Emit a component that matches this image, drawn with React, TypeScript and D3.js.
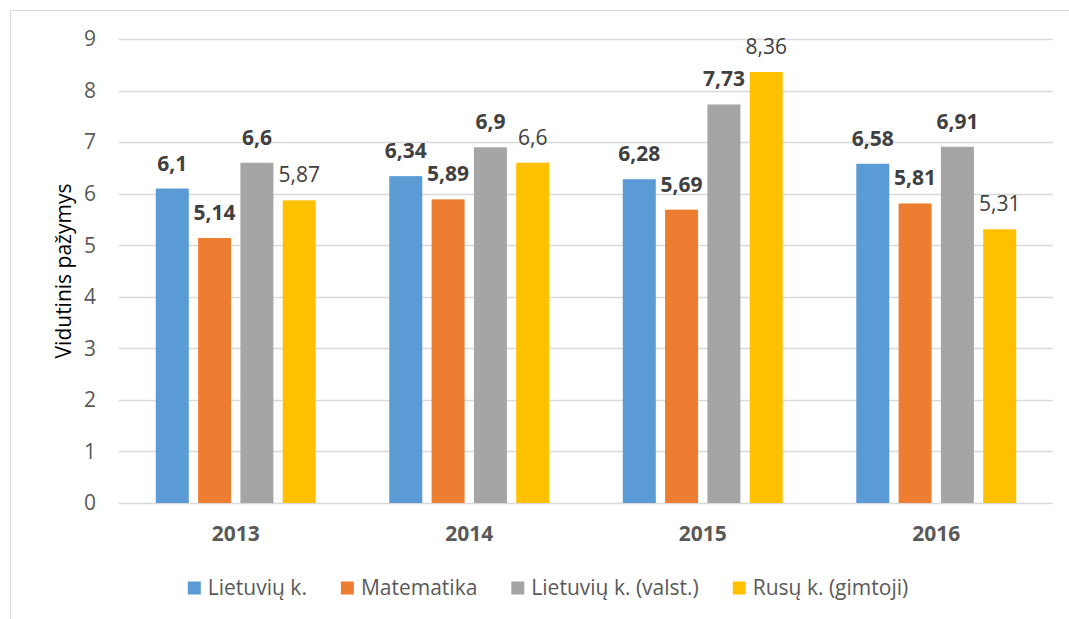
import * as d3 from "d3";
import { useEffect, useRef } from "react";

const years = ["2013", "2014", "2015", "2016"];
const seriesNames = ["Lietuvių k.", "Matematika", "Lietuvių k. (valst.)", "Rusų k. (gimtoji)"];
const lietuviu = [6.1, 6.34, 6.28, 6.58];
const matematika = [5.14, 5.89, 5.69, 5.81];
const lietuviuValst = [6.6, 6.9, 7.73, 6.91];
const rusu = [5.87, 6.6, 8.36, 5.31];
const yTicks = [0, 1, 2, 3, 4, 5, 6, 7, 8, 9];

const seriesValues = [lietuviu, matematika, lietuviuValst, rusu];
const colors = ["#5B9BD5", "#ED7D31", "#A5A5A5", "#FFC000"];
const boldLabels = [true, true, true, false];

const W = 1069;
const H = 619;
const FONT = "'Open Sans', sans-serif";

export default function App() {
  const svgRef = useRef<SVGSVGElement>(null);

  useEffect(() => {
    const svg = d3.select(svgRef.current);
    svg.selectAll("*").remove();

    const left = 119, right = 1053, top = 39, bottom = 503;

    // frame (only left/top edges are visible in the shot)
    svg.append("rect")
      .attr("x", 10.5).attr("y", 10.5)
      .attr("width", W + 20).attr("height", H + 20)
      .attr("fill", "white")
      .attr("stroke", "#D9D9D9")
      .attr("stroke-width", 1);

    const y = d3.scaleLinear().domain([0, 9]).range([bottom, top]);
    const x0 = d3.scaleBand<string>().domain(years).range([left, right])
      .paddingInner(0.315).paddingOuter(0.1575);
    const x1 = d3.scaleBand<number>().domain(d3.range(seriesNames.length))
      .range([0, x0.bandwidth()]).paddingInner(0.22).paddingOuter(0);

    // gridlines + tick labels
    const grid = svg.append("g");
    grid.selectAll("line").data(yTicks).join("line")
      .attr("x1", left).attr("x2", right)
      .attr("y1", d => Math.round(y(d)) + 0.5)
      .attr("y2", d => Math.round(y(d)) + 0.5)
      .attr("stroke", "#D9D9D9").attr("stroke-width", 1.3);
    grid.selectAll("text").data(yTicks).join("text")
      .attr("x", 96).attr("y", d => y(d))
      .attr("dy", "0.35em")
      .attr("text-anchor", "end")
      .attr("font-family", FONT).attr("font-size", 21)
      .attr("fill", "#595959")
      .text(d => d);

    // bars
    const groups = svg.append("g").selectAll("g").data(years).join("g")
      .attr("transform", d => `translate(${x0(d)},0)`);

    seriesValues.forEach((vals, si) => {
      groups.append("rect")
        .attr("x", x1(si)!)
        .attr("y", (_, i) => y(vals[i]))
        .attr("width", x1.bandwidth())
        .attr("height", (_, i) => y(0) - y(vals[i]))
        .attr("fill", colors[si]);
      groups.append("text")
        .attr("x", x1(si)! + x1.bandwidth() / 2)
        .attr("y", (_, i) => y(vals[i]) - 18)
        .attr("text-anchor", "middle")
        .attr("font-family", FONT).attr("font-size", 21)
        .attr("font-weight", boldLabels[si] ? 700 : 400)
        .attr("fill", "#404040")
        .text((_, i) => String(vals[i]).replace(".", ","));
    });

    // category labels
    svg.append("g").selectAll("text").data(years).join("text")
      .attr("x", d => x0(d)! + x0.bandwidth() / 2)
      .attr("y", 541)
      .attr("text-anchor", "middle")
      .attr("font-family", FONT).attr("font-size", 21)
      .attr("font-weight", 700)
      .attr("fill", "#595959")
      .text(d => d);

    // y axis title
    svg.append("text")
      .attr("transform", `translate(71,${(top + bottom) / 2}) rotate(-90)`)
      .attr("text-anchor", "middle")
      .attr("font-family", FONT).attr("font-size", 21)
      .attr("fill", "#000")
      .text("Vidutinis pažymys");

    // legend, laid out from measured text widths
    const legend = svg.append("g");
    const items = legend.selectAll("g").data(seriesNames).join("g");
    items.append("rect")
      .attr("width", 13).attr("height", 13)
      .attr("y", -6.5)
      .attr("fill", (_, i) => colors[i]);
    items.append("text")
      .attr("x", 20).attr("dy", "0.35em")
      .attr("font-family", FONT).attr("font-size", 21)
      .attr("fill", "#595959")
      .text(d => d);
    const widths: number[] = [];
    items.select<SVGTextElement>("text").each(function () {
      widths.push(20 + this.getComputedTextLength());
    });
    const gap = 34;
    const total = d3.sum(widths) + gap * (widths.length - 1);
    let cx = 548 - total / 2;
    items.attr("transform", (_, i) => {
      const t = `translate(${cx},588)`;
      cx += widths[i] + gap;
      return t;
    });
  }, []);

  return (
    <svg
      ref={svgRef}
      width={W}
      height={H}
      style={{ position: "absolute", left: 0, top: 0, background: "white" }}
    />
  );
}
